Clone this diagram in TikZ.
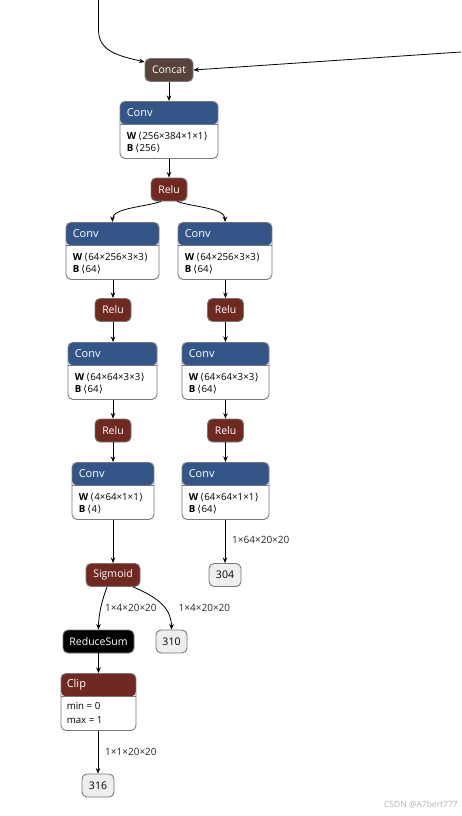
\documentclass[tikz,border=0pt]{standalone}
\usepackage{fontspec}
\setmainfont{Open Sans}
\newfontfamily\dvf{DejaVu Sans}
\usetikzlibrary{arrows.meta}
\definecolor{convblue}{RGB}{51,85,136}
\definecolor{actred}{RGB}{112,41,33}
\definecolor{tensbrown}{RGB}{89,66,59}
\definecolor{boxgray}{RGB}{120,120,120}
\definecolor{outfill}{RGB}{238,238,238}
\newcommand\la{\hspace{2pt}{\dvf ⟨}\hspace{0.5pt}}
\newcommand\ra{\hspace{0.5pt}{\dvf ⟩}}
\tikzset{
  opbox/.style={draw=boxgray, line width=0.9pt, rounded corners=5pt, fill=white, inner sep=0pt, anchor=north},
  bluehead/.style={path picture={\fill[convblue] (path picture bounding box.north west) rectangle ([yshift=-23pt]path picture bounding box.north east);
     \draw[boxgray,line width=0.5pt] ([yshift=-23pt]path picture bounding box.north west) -- ([yshift=-23pt]path picture bounding box.north east);}},
  redhead/.style={path picture={\fill[actred] (path picture bounding box.north west) rectangle ([yshift=-23pt]path picture bounding box.north east);
     \draw[boxgray,line width=0.5pt] ([yshift=-23pt]path picture bounding box.north west) -- ([yshift=-23pt]path picture bounding box.north east);}},
  headtxt/.style={text=white, font=\fontsize{11}{13}\selectfont, anchor=west, inner sep=0pt},
  bodytxt/.style={text=black, font=\fontsize{9.7}{11}\selectfont, anchor=west, inner sep=0pt},
  pill/.style={draw=boxgray, line width=0.9pt, rounded corners=5pt, text=white, font=\fontsize{10.5}{12}\selectfont, inner sep=0pt, minimum height=23pt},
  outbox/.style={draw=boxgray, line width=0.9pt, rounded corners=5pt, fill=outfill, text=black, font=\fontsize{10.5}{12}\selectfont, inner sep=0pt, minimum height=23pt, minimum width=32pt},
  lbl/.style={text=black!85, font=\fontsize{10}{11}\selectfont, anchor=west, inner sep=0pt},
  arr/.style={draw=black, line width=0.8pt, -{Stealth[length=5.5pt,width=4.5pt]}}
}
\begin{document}
\begin{tikzpicture}[x=1pt,y=-1pt]
\useasboundingbox (0,0) rectangle (461,816);
\fill[white] (0,0) rectangle (461,816);

% Concat
\node[pill, fill=tensbrown, minimum width=48pt] (cat) at (169,70) {Concat};

% Conv1
\node[opbox, bluehead, minimum width=98pt, minimum height=57pt] (c1) at (169,101) {};
\node[headtxt] (c1h) at ([xshift=7pt,yshift=-12pt]c1.north west) {Conv};
\node[bodytxt] (c1w) at ([xshift=7pt,yshift=-35pt]c1.north west) {\textbf{W}\la256×384×1×1\ra};
\node[bodytxt] (c1b) at ([xshift=7pt,yshift=-47.5pt]c1.north west) {\textbf{B}\la256\ra};

\node[pill, fill=actred, minimum width=36pt] (r1) at (169,189.5) {Relu};

% Conv2
\node[opbox, bluehead, minimum width=93pt, minimum height=57pt] (c2l) at (112.5,222) {};
\node[headtxt] (c2lh) at ([xshift=7pt,yshift=-12pt]c2l.north west) {Conv};
\node[bodytxt] (c2lw) at ([xshift=7pt,yshift=-35pt]c2l.north west) {\textbf{W}\la64×256×3×3\ra};
\node[bodytxt] (c2lb) at ([xshift=7pt,yshift=-47.5pt]c2l.north west) {\textbf{B}\la64\ra};

\node[opbox, bluehead, minimum width=94pt, minimum height=57pt] (c2r) at (225,222) {};
\node[headtxt] (c2rh) at ([xshift=7pt,yshift=-12pt]c2r.north west) {Conv};
\node[bodytxt] (c2rw) at ([xshift=7pt,yshift=-35pt]c2r.north west) {\textbf{W}\la64×256×3×3\ra};
\node[bodytxt] (c2rb) at ([xshift=7pt,yshift=-47.5pt]c2r.north west) {\textbf{B}\la64\ra};

\node[pill, fill=actred, minimum width=36pt] (r2l) at (113,310) {Relu};
\node[pill, fill=actred, minimum width=36pt] (r2r) at (225.5,310) {Relu};

% Conv3
\node[opbox, bluehead, minimum width=89pt, minimum height=57pt] (c3l) at (112.5,342) {};
\node[headtxt] (c3lh) at ([xshift=7pt,yshift=-12pt]c3l.north west) {Conv};
\node[bodytxt] (c3lw) at ([xshift=7pt,yshift=-35pt]c3l.north west) {\textbf{W}\la64×64×3×3\ra};
\node[bodytxt] (c3lb) at ([xshift=7pt,yshift=-47.5pt]c3l.north west) {\textbf{B}\la64\ra};

\node[opbox, bluehead, minimum width=87pt, minimum height=57pt] (c3r) at (225.5,342) {};
\node[headtxt] (c3rh) at ([xshift=7pt,yshift=-12pt]c3r.north west) {Conv};
\node[bodytxt] (c3rw) at ([xshift=7pt,yshift=-35pt]c3r.north west) {\textbf{W}\la64×64×3×3\ra};
\node[bodytxt] (c3rb) at ([xshift=7pt,yshift=-47.5pt]c3r.north west) {\textbf{B}\la64\ra};

\node[pill, fill=actred, minimum width=36pt] (r3l) at (113,430.5) {Relu};
\node[pill, fill=actred, minimum width=36pt] (r3r) at (225.5,430.5) {Relu};

% Conv4
\node[opbox, bluehead, minimum width=82pt, minimum height=57pt] (c4l) at (113,462) {};
\node[headtxt] (c4lh) at ([xshift=7pt,yshift=-12pt]c4l.north west) {Conv};
\node[bodytxt] (c4lw) at ([xshift=7pt,yshift=-35pt]c4l.north west) {\textbf{W}\la4×64×1×1\ra};
\node[bodytxt] (c4lb) at ([xshift=7pt,yshift=-47.5pt]c4l.north west) {\textbf{B}\la4\ra};

\node[opbox, bluehead, minimum width=87pt, minimum height=57pt] (c4r) at (225.5,462) {};
\node[headtxt] (c4rh) at ([xshift=7pt,yshift=-12pt]c4r.north west) {Conv};
\node[bodytxt] (c4rw) at ([xshift=7pt,yshift=-35pt]c4r.north west) {\textbf{W}\la64×64×1×1\ra};
\node[bodytxt] (c4rb) at ([xshift=7pt,yshift=-47.5pt]c4r.north west) {\textbf{B}\la64\ra};

\node[pill, fill=actred, minimum width=54pt] (sig) at (113,575) {Sigmoid};
\node[outbox] (o304) at (225,575) {304};

\node[pill, fill=black, minimum width=71pt] (rs) at (98.5,641.5) {ReduceSum};
\node[outbox, minimum width=31pt] (o310) at (171.5,641.5) {310};

% Clip
\node[opbox, redhead, minimum width=75pt, minimum height=57pt] (clip) at (98.5,673) {};
\node[headtxt] (cliph) at ([xshift=6pt,yshift=-12pt]clip.north west) {Clip};
\node[bodytxt] (clipmin) at ([xshift=6pt,yshift=-33pt]clip.north west) {min = 0};
\node[bodytxt] (clipmax) at ([xshift=6pt,yshift=-47pt]clip.north west) {max = 1};

\node[outbox] (o316) at (98,785.5) {316};

% edge labels
\node[lbl] (l304) at (232,540) {1×64×20×20};
\node[lbl] (l1) at (105,608) {1×4×20×20};
\node[lbl] (l2) at (178.5,608) {1×4×20×20};
\node[lbl] (l3) at (105,752) {1×1×20×20};

% watermark
\node[text=black!30, font=\fontsize{8.5}{9}\selectfont, anchor=east, inner sep=0pt] (wm) at (458,805) {CSDN @A7bert777};

% edges
\coordinate (intop) at (98.5,0);
\coordinate (inright) at (461,52);
\draw[arr] (intop) -- (98.5,30) .. controls (98.5,52) and (120,56) .. ([yshift=-4pt]cat.north west);
\draw[arr] (inright) -- (cat.east);
\draw[arr] (cat.south) -- (c1.north);
\draw[arr] (c1.south) -- (r1.north);
\draw[arr] ([xshift=-8pt]r1.south) .. controls (145,207) and (112.5,208) .. (c2l.north);
\draw[arr] ([xshift=8pt]r1.south) .. controls (193,207) and (225,208) .. (c2r.north);
\draw[arr] (c2l.south -| r2l) -- (r2l.north);
\draw[arr] (c2r.south -| r2r) -- (r2r.north);
\draw[arr] (r2l.south) -- (c3l.north -| r2l);
\draw[arr] (r2r.south) -- (c3r.north -| r2r);
\draw[arr] (c3l.south -| r3l) -- (r3l.north);
\draw[arr] (c3r.south -| r3r) -- (r3r.north);
\draw[arr] (r3l.south) -- (c4l.north -| r3l);
\draw[arr] (r3r.south) -- (c4r.north -| r3r);
\draw[arr] (c4l.south) -- (sig.north);
\draw[arr] (c4r.south -| o304) -- (o304.north);
\draw[arr] ([xshift=-6pt]sig.south) .. controls (102,600) and (98.5,615) .. (rs.north);
\draw[arr] ([xshift=20pt]sig.south) .. controls (160,598) and (171.5,610) .. (o310.north);
\draw[arr] (rs.south) -- (clip.north);
\draw[arr] (clip.south -| o316) -- (o316.north);
\end{tikzpicture}
\end{document}
